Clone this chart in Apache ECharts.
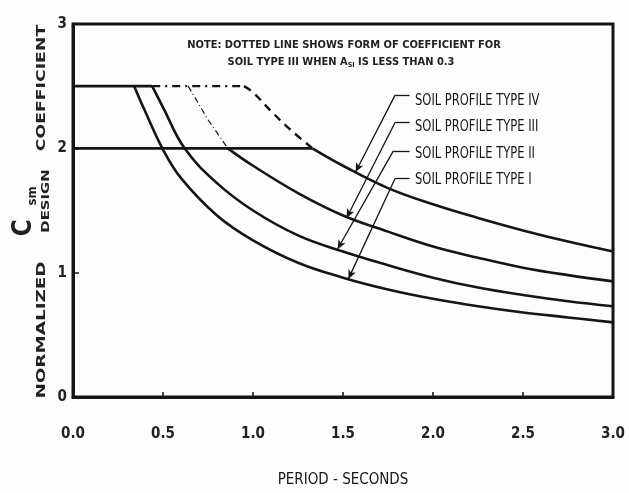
<!DOCTYPE html>
<html>
<head>
	<meta charset="utf-8">
	<title>Normalized design coefficient</title>
	<script src="https://cdn.jsdelivr.net/npm/echarts@6/dist/echarts.min.js"></script>
	<style>
		html, body { margin: 0; padding: 0; background: #fdfdfd; }
		#chart { width: 629px; height: 493px; }
	</style>
</head>
<body>
<div id="chart"></div>
<script>
	// values (period in seconds, normalized coefficient)
	var periodI = [0.34, 0.4, 0.5, 0.6, 0.8, 1.0, 1.25, 1.5, 1.75, 2.0, 2.25, 2.5, 2.75, 3.0];
	var coefI = [2.5, 2.3, 1.99, 1.76, 1.46, 1.26, 1.08, 0.96, 0.865, 0.79, 0.73, 0.68, 0.64, 0.60];

	var periodII = [0.44, 0.5, 0.62, 0.8, 1.0, 1.25, 1.5, 1.75, 2.0, 2.25, 2.5, 2.75, 3.0];
	var coefII = [2.5, 2.33, 2.0, 1.72, 1.5, 1.3, 1.17, 1.06, 0.96, 0.88, 0.82, 0.77, 0.73];

	var periodIII = [0.86, 1.0, 1.25, 1.5, 1.75, 2.0, 2.25, 2.5, 2.75, 3.0];
	var coefIII = [2.0, 1.86, 1.64, 1.46, 1.33, 1.21, 1.12, 1.04, 0.98, 0.93];
	var periodIIIdot = [0.64, 0.75, 0.86];
	var coefIIIdot = [2.5, 2.23, 2.0];

	var periodIV = [1.33, 1.5, 1.75, 2.0, 2.25, 2.5, 2.75, 3.0];
	var coefIV = [2.0, 1.86, 1.68, 1.55, 1.44, 1.34, 1.25, 1.17];
	var periodIVdot = [0.95, 1.0, 1.1, 1.2, 1.33];
	var coefIVdot = [2.5, 2.45, 2.3, 2.16, 2.0];

	// flat tops: [from, to, level]
	var plateaus = [[0, 0.44, 2.5], [0, 1.33, 2.0]];
	var plateauDot = [0.44, 0.95, 2.5];

	var xTicks = ['0.0', '0.5', '1.0', '1.5', '2.0', '2.5', '3.0'];
	var typeNames = ['SOIL PROFILE TYPE IV', 'SOIL PROFILE TYPE III', 'SOIL PROFILE TYPE II', 'SOIL PROFILE TYPE I'];
	// leader lines: [label x, label y, bend x, arrow x, arrow y]
	var leaders = [
		[1.87, 2.43, 1.79, 1.57, 1.81],
		[1.87, 2.21, 1.79, 1.52, 1.44],
		[1.87, 1.98, 1.78, 1.47, 1.19],
		[1.87, 1.76, 1.79, 1.53, 0.95]
	];

	function pairs(xs, ys) {
		return xs.map(function (x, i) { return [x, ys[i]]; });
	}

	var font = '"DejaVu Sans Condensed", "Liberation Sans", sans-serif';
	var ink = '#151515';

	var leaderData = [];
	leaders.forEach(function (l) {
		leaderData.push([{coord: [l[0], l[1]], symbol: 'none'}, {coord: [l[2], l[1]], symbol: 'none'}]);
		leaderData.push([{coord: [l[2], l[1]], symbol: 'none'}, {coord: [l[3], l[4]], symbol: 'arrow', symbolSize: [6, 9]}]);
	});

	function curve(name, data, opts) {
		var s = {
			name: name,
			type: 'line',
			data: data,
			showSymbol: false,
			smooth: 0.4,
			silent: true,
			lineStyle: {color: ink, width: 2.6}
		};
		for (var k in opts) s[k] = opts[k];
		return s;
	}

	var series = [
		curve('IV', pairs(periodIV, coefIV), {
			markLine: {
				silent: true, animation: false,
				symbol: ['none', 'arrow'],
				lineStyle: {color: ink, width: 1.3, type: 'solid'},
				label: {show: false},
				data: leaderData
			}
		}),
		curve('IV dotted', pairs(periodIVdot, coefIVdot), {
			lineStyle: {color: ink, width: 2.4, type: [8, 6]}
		}),
		curve('top dotted', [[plateauDot[0], plateauDot[2]], [plateauDot[1], plateauDot[2]]], {
			smooth: false,
			lineStyle: {color: ink, width: 2.4, type: [8, 5, 2, 5]}
		}),
		curve('III', pairs(periodIII, coefIII)),
		curve('III dotted', pairs(periodIIIdot, coefIIIdot), {
			smooth: false,
			lineStyle: {color: ink, width: 1.2, type: [6, 3, 1, 3]}
		}),
		curve('II', pairs(periodII, coefII)),
		curve('I', pairs(periodI, coefI))
	];
	plateaus.forEach(function (p, i) {
		series.push(curve('plateau ' + i, [[p[0], p[2]], [p[1], p[2]]], {smooth: false}));
	});

	function vText(text, x, y, size, stretch) {
		return {
			type: 'text', x: x, y: y, rotation: Math.PI / 2, scaleX: stretch,
			style: {text: text, font: 'bold ' + size + 'px ' + font, fill: '#222', align: 'center', verticalAlign: 'middle'}
		};
	}

	var myChart = echarts.init(document.getElementById('chart'));
	var option = {
		animation: false,
		backgroundColor: '#fdfdfd',
		grid: {left: 73, right: 16, top: 24, bottom: 90, show: true, borderColor: ink, borderWidth: 3},
		xAxis: {
			type: 'value', min: 0, max: 3, interval: 0.5,
			name: 'PERIOD - SECONDS', nameLocation: 'middle', nameGap: 76,
			nameTextStyle: {fontFamily: font, fontSize: 15, color: ink},
			axisLine: {lineStyle: {color: ink, width: 3}},
			axisTick: {inside: true, length: 5, lineStyle: {color: ink, width: 1.5}},
			axisLabel: {
				margin: 30, fontFamily: font, fontSize: 15, fontWeight: 'bold', color: '#222',
				formatter: function (v) { return xTicks[Math.round(v * 2)]; }
			},
			splitLine: {show: false}
		},
		yAxis: {
			type: 'value', min: 0, max: 3, interval: 1,
			axisLine: {show: true, lineStyle: {color: ink, width: 3}},
			axisTick: {show: true, inside: true, length: 6, lineStyle: {color: ink, width: 1.5}},
			axisLabel: {margin: 6, fontFamily: font, fontSize: 15, fontWeight: 'bold', color: '#222'},
			splitLine: {show: false}
		},
		series: series,
		graphic: [
			{
				type: 'text', x: 344, y: 45,
				style: {
					text: 'NOTE: DOTTED LINE SHOWS FORM OF COEFFICIENT FOR',
					font: 'bold 11px ' + font, fill: '#222', align: 'center', verticalAlign: 'middle'
				}
			},
			{
				type: 'text', x: 341, y: 62,
				style: {
					text: 'SOIL TYPE III WHEN A{sub|SI} IS LESS THAN 0.3',
					font: 'bold 11px ' + font, fill: '#222', align: 'center', verticalAlign: 'middle',
					rich: {sub: {fontSize: 7, fontWeight: 'bold', fontFamily: font, verticalAlign: 'bottom', padding: [6, 0, 0, 0]}}
				}
			}
		].concat(typeNames.map(function (t, i) {
			return {
				type: 'text', x: 415, y: [101, 127, 154, 180][i], scaleX: 0.8,
				style: {text: t, font: '16px ' + font, fill: ink, verticalAlign: 'middle'}
			};
		})).concat([
			vText('COEFFICIENT', 42, 88, 12, 1.6),
			vText('DESIGN', 46, 201, 10, 1.65),
			vText('sm', 33, 196, 13, 1),
			vText('C', 24, 228, 26, 1),
			vText('NORMALIZED', 42, 330, 12, 1.7)
		])
	};

	option && myChart.setOption(option);
</script>
</body>
</html>
